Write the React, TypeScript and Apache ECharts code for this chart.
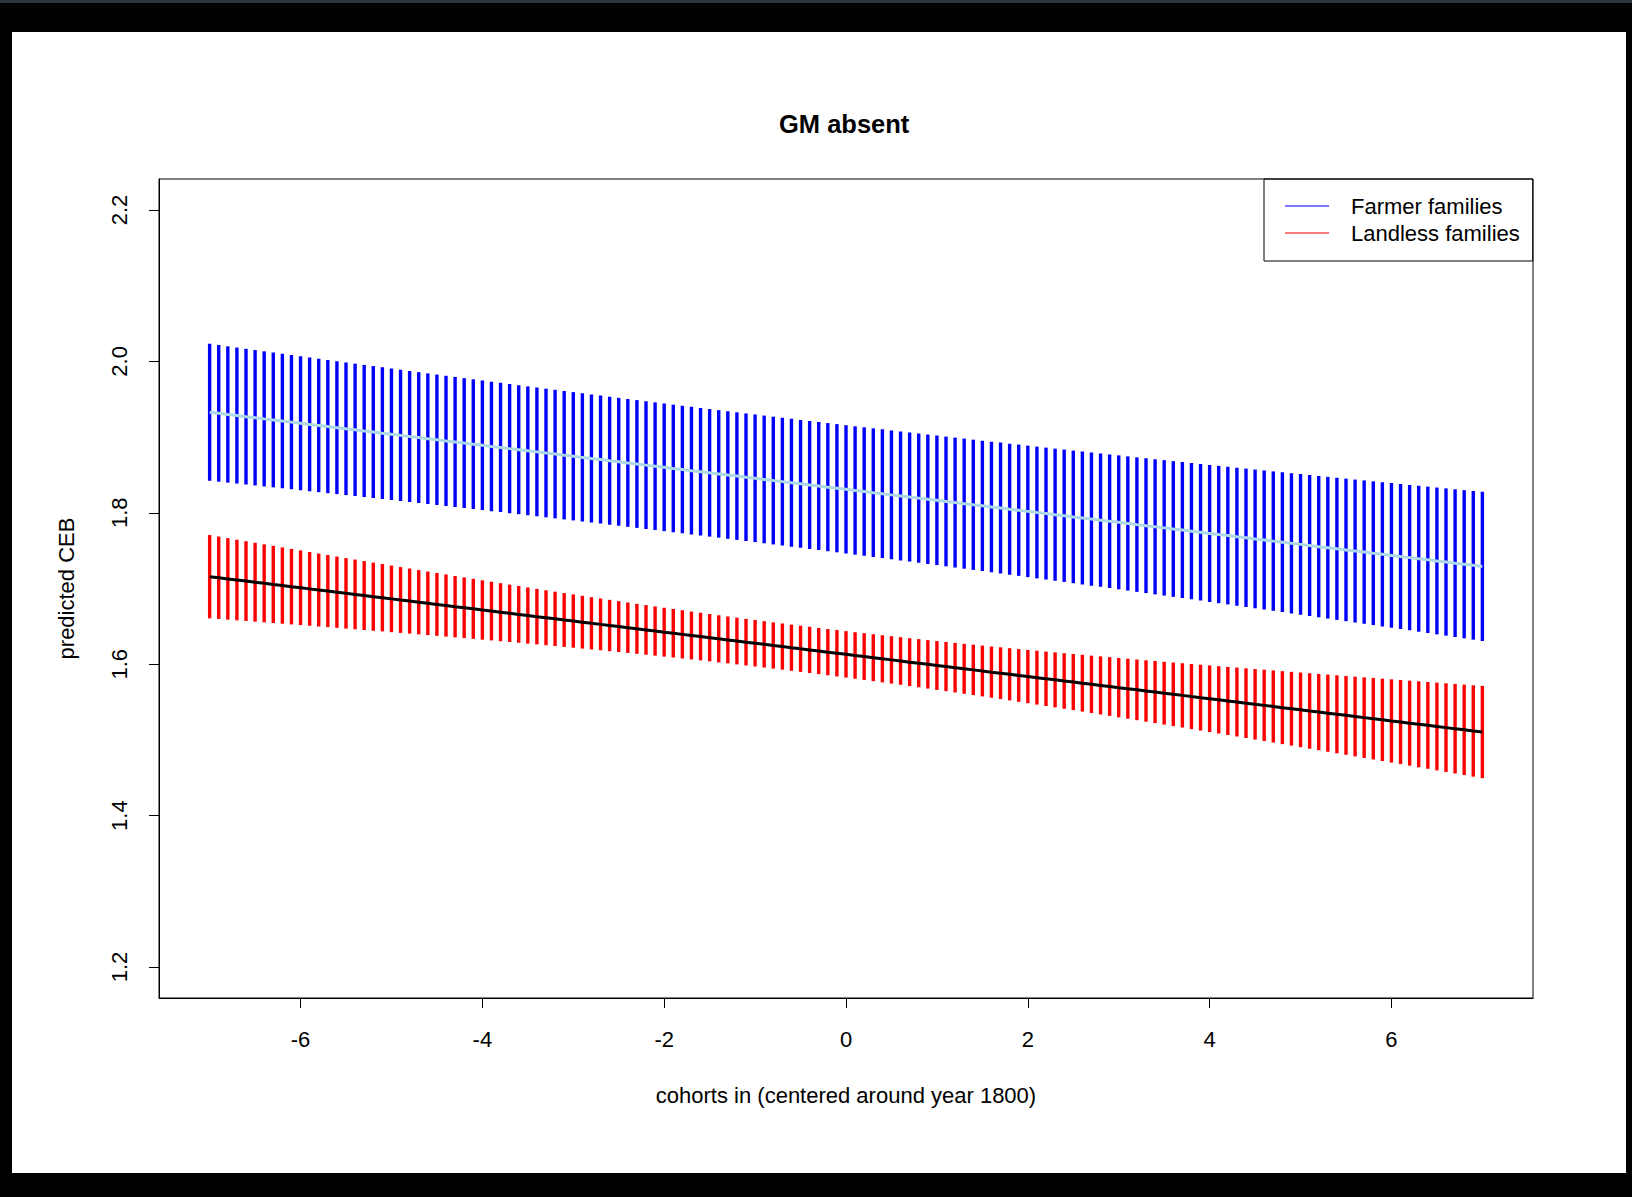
import React, { useEffect, useRef } from "react";
import * as echarts from "echarts";

const cohorts = [
  -7, -6.9, -6.8, -6.7, -6.6, -6.5, -6.4, -6.3, -6.2, -6.1,
  -6, -5.9, -5.8, -5.7, -5.6, -5.5, -5.4, -5.3, -5.2, -5.1,
  -5, -4.9, -4.8, -4.7, -4.6, -4.5, -4.4, -4.3, -4.2, -4.1,
  -4, -3.9, -3.8, -3.7, -3.6, -3.5, -3.4, -3.3, -3.2, -3.1,
  -3, -2.9, -2.8, -2.7, -2.6, -2.5, -2.4, -2.3, -2.2, -2.1,
  -2, -1.9, -1.8, -1.7, -1.6, -1.5, -1.4, -1.3, -1.2, -1.1,
  -1, -0.9, -0.8, -0.7, -0.6, -0.5, -0.4, -0.3, -0.2, -0.1,
  0, 0.1, 0.2, 0.3, 0.4, 0.5, 0.6, 0.7, 0.8, 0.9,
  1, 1.1, 1.2, 1.3, 1.4, 1.5, 1.6, 1.7, 1.8, 1.9,
  2, 2.1, 2.2, 2.3, 2.4, 2.5, 2.6, 2.7, 2.8, 2.9,
  3, 3.1, 3.2, 3.3, 3.4, 3.5, 3.6, 3.7, 3.8, 3.9,
  4, 4.1, 4.2, 4.3, 4.4, 4.5, 4.6, 4.7, 4.8, 4.9,
  5, 5.1, 5.2, 5.3, 5.4, 5.5, 5.6, 5.7, 5.8, 5.9,
  6, 6.1, 6.2, 6.3, 6.4, 6.5, 6.6, 6.7, 6.8, 6.9,
  7,
];

const farmerFit = [
  1.9329, 1.9314, 1.9299, 1.9285, 1.927, 1.9256, 1.9241, 1.9227, 1.9212, 1.9198,
  1.9183, 1.9168, 1.9154, 1.9139, 1.9125, 1.911, 1.9096, 1.9081, 1.9067, 1.9052,
  1.9038, 1.9023, 1.9008, 1.8994, 1.8979, 1.8965, 1.895, 1.8936, 1.8921, 1.8907,
  1.8892, 1.8877, 1.8863, 1.8848, 1.8834, 1.8819, 1.8805, 1.879, 1.8776, 1.8761,
  1.8747, 1.8732, 1.8717, 1.8703, 1.8688, 1.8674, 1.8659, 1.8645, 1.863, 1.8616,
  1.8601, 1.8586, 1.8572, 1.8557, 1.8543, 1.8528, 1.8514, 1.8499, 1.8485, 1.847,
  1.8456, 1.8441, 1.8426, 1.8412, 1.8397, 1.8383, 1.8368, 1.8354, 1.8339, 1.8325,
  1.831, 1.8295, 1.8281, 1.8266, 1.8252, 1.8237, 1.8223, 1.8208, 1.8194, 1.8179,
  1.8165, 1.815, 1.8135, 1.8121, 1.8106, 1.8092, 1.8077, 1.8063, 1.8048, 1.8034,
  1.8019, 1.8004, 1.799, 1.7975, 1.7961, 1.7946, 1.7932, 1.7917, 1.7903, 1.7888,
  1.7874, 1.7859, 1.7844, 1.783, 1.7815, 1.7801, 1.7786, 1.7772, 1.7757, 1.7743,
  1.7728, 1.7713, 1.7699, 1.7684, 1.767, 1.7655, 1.7641, 1.7626, 1.7612, 1.7597,
  1.7583, 1.7568, 1.7553, 1.7539, 1.7524, 1.751, 1.7495, 1.7481, 1.7466, 1.7452,
  1.7437, 1.7422, 1.7408, 1.7393, 1.7379, 1.7364, 1.735, 1.7335, 1.7321, 1.7306,
  1.7292,
];

const farmerHalf = [
  0.09049, 0.09028, 0.09006, 0.08985, 0.08965, 0.08944, 0.08924, 0.08905, 0.08885, 0.08867,
  0.08848, 0.0883, 0.08812, 0.08795, 0.08778, 0.08761, 0.08745, 0.08729, 0.08714, 0.08699,
  0.08684, 0.0867, 0.08656, 0.08642, 0.08629, 0.08616, 0.08604, 0.08592, 0.0858, 0.08569,
  0.08559, 0.08548, 0.08538, 0.08529, 0.0852, 0.08511, 0.08503, 0.08495, 0.08488, 0.08481,
  0.08474, 0.08468, 0.08462, 0.08457, 0.08452, 0.08447, 0.08443, 0.0844, 0.08437, 0.08434,
  0.08432, 0.0843, 0.08428, 0.08427, 0.08426, 0.08426, 0.08426, 0.08427, 0.08428, 0.0843,
  0.08432, 0.08434, 0.08437, 0.0844, 0.08443, 0.08447, 0.08452, 0.08457, 0.08462, 0.08468,
  0.08474, 0.08481, 0.08488, 0.08495, 0.08503, 0.08511, 0.0852, 0.08529, 0.08538, 0.08548,
  0.08559, 0.08569, 0.0858, 0.08592, 0.08604, 0.08616, 0.08629, 0.08642, 0.08656, 0.0867,
  0.08684, 0.08699, 0.08714, 0.08729, 0.08745, 0.08761, 0.08778, 0.08795, 0.08812, 0.0883,
  0.08848, 0.08867, 0.08885, 0.08905, 0.08924, 0.08944, 0.08965, 0.08985, 0.09006, 0.09028,
  0.09049, 0.09071, 0.09094, 0.09116, 0.0914, 0.09163, 0.09187, 0.09211, 0.09235, 0.0926,
  0.09285, 0.0931, 0.09336, 0.09362, 0.09388, 0.09415, 0.09442, 0.09469, 0.09497, 0.09524,
  0.09552, 0.09581, 0.0961, 0.09639, 0.09668, 0.09697, 0.09727, 0.09757, 0.09788, 0.09818,
  0.09849,
];

const landlessFit = [
  1.7156, 1.7142, 1.7127, 1.7112, 1.7098, 1.7083, 1.7068, 1.7054, 1.7039, 1.7024,
  1.701, 1.6995, 1.698, 1.6966, 1.6951, 1.6936, 1.6922, 1.6907, 1.6892, 1.6878,
  1.6863, 1.6848, 1.6834, 1.6819, 1.6804, 1.679, 1.6775, 1.676, 1.6746, 1.6731,
  1.6716, 1.6702, 1.6687, 1.6672, 1.6658, 1.6643, 1.6628, 1.6614, 1.6599, 1.6584,
  1.657, 1.6555, 1.654, 1.6526, 1.6511, 1.6497, 1.6482, 1.6467, 1.6453, 1.6438,
  1.6423, 1.6409, 1.6394, 1.6379, 1.6365, 1.635, 1.6335, 1.6321, 1.6306, 1.6291,
  1.6277, 1.6262, 1.6247, 1.6233, 1.6218, 1.6203, 1.6189, 1.6174, 1.6159, 1.6145,
  1.613, 1.6115, 1.6101, 1.6086, 1.6071, 1.6057, 1.6042, 1.6027, 1.6013, 1.5998,
  1.5983, 1.5969, 1.5954, 1.5939, 1.5925, 1.591, 1.5895, 1.5881, 1.5866, 1.5851,
  1.5837, 1.5822, 1.5807, 1.5793, 1.5778, 1.5764, 1.5749, 1.5734, 1.572, 1.5705,
  1.569, 1.5676, 1.5661, 1.5646, 1.5632, 1.5617, 1.5602, 1.5588, 1.5573, 1.5558,
  1.5544, 1.5529, 1.5514, 1.55, 1.5485, 1.547, 1.5456, 1.5441, 1.5426, 1.5412,
  1.5397, 1.5382, 1.5368, 1.5353, 1.5338, 1.5324, 1.5309, 1.5294, 1.528, 1.5265,
  1.525, 1.5236, 1.5221, 1.5206, 1.5192, 1.5177, 1.5162, 1.5148, 1.5133, 1.5118,
  1.5104,
];

const landlessHalf = [
  0.055, 0.05441, 0.05383, 0.05325, 0.05267, 0.0521, 0.05153, 0.05097, 0.0504, 0.04984,
  0.04929, 0.04874, 0.04819, 0.04765, 0.04711, 0.04657, 0.04604, 0.04552, 0.045, 0.04448,
  0.04397, 0.04347, 0.04297, 0.04247, 0.04199, 0.0415, 0.04103, 0.04056, 0.0401, 0.03965,
  0.0392, 0.03876, 0.03833, 0.03791, 0.03749, 0.03709, 0.03669, 0.0363, 0.03592, 0.03556,
  0.0352, 0.03485, 0.03452, 0.03419, 0.03388, 0.03358, 0.03329, 0.03301, 0.03275, 0.0325,
  0.03226, 0.03203, 0.03182, 0.03163, 0.03145, 0.03128, 0.03113, 0.03099, 0.03088, 0.03077,
  0.03068, 0.03061, 0.03055, 0.03051, 0.03049, 0.03048, 0.03049, 0.03051, 0.03055, 0.03061,
  0.03068, 0.03077, 0.03088, 0.03099, 0.03113, 0.03128, 0.03145, 0.03163, 0.03182, 0.03203,
  0.03226, 0.0325, 0.03275, 0.03301, 0.03329, 0.03358, 0.03388, 0.03419, 0.03452, 0.03485,
  0.0352, 0.03556, 0.03592, 0.0363, 0.03669, 0.03709, 0.03749, 0.03791, 0.03833, 0.03876,
  0.0392, 0.03965, 0.0401, 0.04056, 0.04103, 0.0415, 0.04199, 0.04247, 0.04297, 0.04347,
  0.04397, 0.04448, 0.045, 0.04552, 0.04604, 0.04657, 0.04711, 0.04765, 0.04819, 0.04874,
  0.04929, 0.04984, 0.0504, 0.05097, 0.05153, 0.0521, 0.05267, 0.05325, 0.05383, 0.05441,
  0.055, 0.05558, 0.05617, 0.05677, 0.05736, 0.05796, 0.05856, 0.05916, 0.05977, 0.06037,
  0.06098,
];

const xTicks = [-6, -4, -2, 0, 2, 4, 6];
const yTicks = [1.2, 1.4, 1.6, 1.8, 2.0, 2.2];
const groupNames = ["Farmer families", "Landless families"];

const FONT = "'Liberation Sans', Arial, Helvetica, sans-serif";

export default function App() {
  const ref = useRef<HTMLDivElement>(null);

  useEffect(() => {
    document.body.style.margin = "0";
    const chart = echarts.init(ref.current!, null, { renderer: "svg" });

    const farmerBars = cohorts.map((x, i) => [x, farmerFit[i] - farmerHalf[i], farmerFit[i] + farmerHalf[i]]);
    const landlessBars = cohorts.map((x, i) => [x, landlessFit[i] - landlessHalf[i], landlessFit[i] + landlessHalf[i]]);

    const makeRender = (color: string) => (_params: any, api: any) => {
      const x = api.value(0);
      const lo = api.value(1);
      const hi = api.value(2);
      const a = api.coord([x, lo]);
      const b = api.coord([x, hi]);
      return {
        type: "line",
        shape: { x1: a[0], y1: a[1], x2: b[0], y2: b[1] },
        style: { stroke: color, lineWidth: 3.4 },
      };
    };

    const legendIcon = "path://M0,0h44v2h-44zM60.99,0h0.01v0.01h-0.01z";

    chart.setOption({
      animation: false,
      backgroundColor: "#ffffff",
      textStyle: { fontFamily: FONT },
      title: {
        text: "GM absent",
        left: 767,
        top: 79,
        padding: 0,
        textStyle: { fontSize: 25.5, fontWeight: "bold", color: "#000", fontFamily: FONT },
      },
      legend: {
        orient: "vertical",
        left: 1252,
        top: 147,
        itemWidth: 61,
        itemHeight: 2,
        itemGap: 5,
        padding: [16, 13, 17, 21],
        borderColor: "#000",
        borderWidth: 1,
        selectedMode: false,
        textStyle: { fontSize: 22, color: "#000", fontFamily: FONT, lineHeight: 22 },
        data: [
          { name: groupNames[0], icon: legendIcon, itemStyle: { color: "#7a7aff" } },
          { name: groupNames[1], icon: legendIcon, itemStyle: { color: "#ff7a7a" } },
        ],
      },
      grid: {
        left: 147,
        top: 147,
        width: 1374,
        height: 819,
        show: true,
        borderColor: "#000",
        borderWidth: 1,
        backgroundColor: "transparent",
      },
      xAxis: {
        type: "value",
        min: -7.557,
        max: 7.557,
        splitLine: { show: false },
        axisLine: { show: true, onZero: false, lineStyle: { color: "#000", width: 1 } },
        axisTick: { show: true, length: 10, customValues: xTicks, lineStyle: { color: "#000", width: 1 } },
        axisLabel: { customValues: xTicks, margin: 30, fontSize: 22, color: "#000", fontFamily: FONT },
        name: "cohorts in (centered around year 1800)",
        nameLocation: "middle",
        nameGap: 86,
        nameTextStyle: { fontSize: 22, color: "#000", fontFamily: FONT },
      },
      yAxis: {
        type: "value",
        min: 1.159,
        max: 2.241,
        splitLine: { show: false },
        axisLine: { show: true, onZero: false, lineStyle: { color: "#000", width: 1 } },
        axisTick: { show: true, length: 10, customValues: yTicks, lineStyle: { color: "#000", width: 1 } },
        axisLabel: {
          customValues: yTicks,
          rotate: 90,
          margin: 29,
          fontSize: 22,
          color: "#000",
          fontFamily: FONT,
          formatter: (v: number) => v.toFixed(1),
        },
        name: "predicted CEB",
        nameLocation: "middle",
        nameGap: 82,
        nameTextStyle: { fontSize: 22, color: "#000", fontFamily: FONT },
      },
      series: [
        {
          type: "custom",
          name: groupNames[0],
          renderItem: makeRender("#0000ff"),
          encode: { x: 0, y: [1, 2] },
          data: farmerBars,
          z: 2,
        },
        {
          type: "custom",
          name: groupNames[1],
          renderItem: makeRender("#ff0000"),
          encode: { x: 0, y: [1, 2] },
          data: landlessBars,
          z: 2,
        },
        {
          type: "line",
          name: "Farmer fit",
          data: cohorts.map((x, i) => [x, farmerFit[i]]),
          symbol: "none",
          lineStyle: { color: "#add8e6", width: 3 },
          itemStyle: { color: "#add8e6" },
          z: 3,
        },
        {
          type: "line",
          name: "Landless fit",
          data: cohorts.map((x, i) => [x, landlessFit[i]]),
          symbol: "none",
          lineStyle: { color: "#000000", width: 3 },
          itemStyle: { color: "#000000" },
          z: 3,
        },
      ],
    });

    return () => chart.dispose();
  }, []);

  return (
    <div style={{ position: "fixed", left: 0, top: 0, width: 1632, height: 1197, background: "#000", overflow: "hidden" }}>
      <div style={{ position: "absolute", left: 0, top: 0, width: 1632, height: 3, background: "#2f3539" }} />
      <div
        ref={ref}
        style={{ position: "absolute", left: 12, top: 32, width: 1614, height: 1141, background: "#fff" }}
      />
    </div>
  );
}
